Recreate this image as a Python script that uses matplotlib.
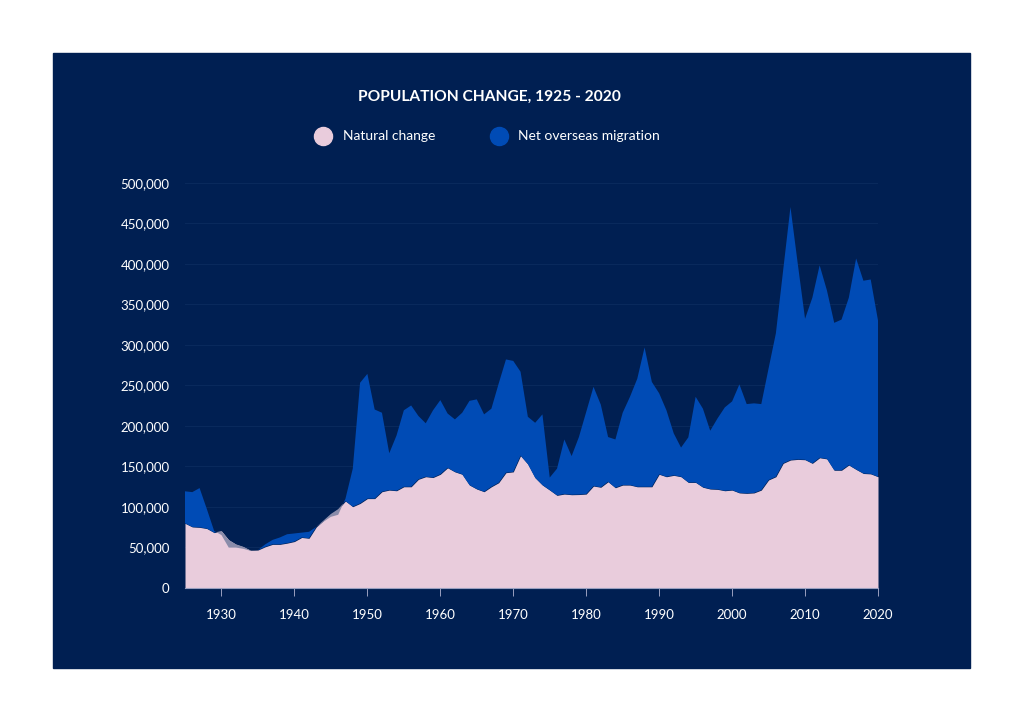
import numpy as np
import matplotlib.pyplot as plt
from matplotlib.patches import Rectangle
from matplotlib.lines import Line2D
from matplotlib.ticker import FuncFormatter

plt.rcParams['font.family'] = ['Lato', 'DejaVu Sans']

# Data (thousands of people), one value per year 1925 - 2020
years = list(range(1925, 2021))
natural_k = [79.5, 75, 74.5, 73, 68, 70, 59, 53.5, 50.5, 46,
             46.5, 50.5, 53.5, 53.5, 55, 57, 62, 61, 75, 83,
             91, 97, 107, 100, 104, 110, 110, 118.5, 120.5, 119.7,
             124.6, 124.6, 133.8, 137, 136, 140, 148, 143, 140, 126.7,
             121.8, 118.5, 124.6, 129.6, 142, 143, 163, 152.6, 135.7, 126.7,
             120.5, 114, 115.6, 114.8, 115, 115.6, 125.5, 124, 130.8, 123.4,
             126.7, 126.7, 124.6, 124.6, 124.6, 140, 137, 138.7, 137, 130,
             130, 124, 121.8, 121.4, 119.7, 120.5, 117, 116.5, 117, 120.5,
             133, 137, 153.5, 157.6, 158.4, 158, 153.5, 160.4, 159, 145,
             145, 151.4, 146, 141, 140.5, 137]
migration_k = [39.5, 43, 48.5, 24, 2, -5, -9.5, -4, -2.5, -0.5,
               0, 3, 5.5, 8.5, 11, 10, 6, 8, 0, -1.5,
               -3.5, -7, 3, 47, 149, 154, 110, 97.5, 45.5, 68.3,
               94.4, 100.4, 78.2, 66, 83, 91.6, 67, 64.8, 76, 104,
               110.7, 95.5, 96.4, 122.4, 139.8, 137, 103.6, 58.4, 67.9, 87.3,
               15.5, 33, 67.4, 47.7, 71, 101.4, 122.5, 102, 55.2, 59.6,
               89.3, 109, 133.4, 172, 129.4, 100, 82, 51.8, 36, 55.6,
               105.7, 97, 72, 87.6, 102.9, 109.5, 134, 110.2, 110.6, 106.2,
               137.7, 177, 238.5, 312.4, 241.6, 174, 204.5, 237.6, 208, 182,
               186, 206.6, 260.5, 238, 240, 193]
y_ticks = [0, 50000, 100000, 150000, 200000, 250000, 300000, 350000, 400000, 450000, 500000]
x_ticks = [1930, 1940, 1950, 1960, 1970, 1980, 1990, 2000, 2010, 2020]

navy = '#001f52'
blue = '#004bb5'
pink = '#e9ccdc'
grey = '#8a8caa'

natural = np.array(natural_k) * 1000
migration = np.array(migration_k) * 1000
total = natural + migration

W, H = 1024, 721
fig = plt.figure(figsize=(W / 100, H / 100), dpi=100)
fig.patch.set_facecolor('white')
fig.add_artist(Rectangle((53 / W, 1 - 668 / H), (970 - 53) / W, (668 - 53) / H,
                         transform=fig.transFigure, color=navy, zorder=0))

ax = fig.add_axes([185 / W, 1 - 587.7 / H, (878 - 185) / W, (587.7 - 182.7) / H])
ax.set_facecolor('none')

# pink natural change, migration stacked on top (grey where it is negative)
ax.fill_between(years, 0, natural, color=pink, lw=0, zorder=2)
ax.fill_between(years, natural, total, where=migration >= 0, interpolate=True,
                color=blue, lw=0, zorder=2)
ax.fill_between(years, total, natural, where=migration < 0, interpolate=True,
                color=grey, lw=0, zorder=2)

ax.set_xlim(1925, 2020)
ax.set_ylim(0, 500000)
ax.set_xticks(x_ticks)
ax.set_yticks(y_ticks)
ax.yaxis.set_major_formatter(FuncFormatter(lambda v, p: f'{int(v):,}'))
ax.grid(axis='y', color='#0a2a5d', lw=0.7, zorder=1)
for s in ['top', 'right', 'left']:
    ax.spines[s].set_visible(False)
ax.spines['bottom'].set_color('#9aa0c0')
ax.spines['bottom'].set_linewidth(0.8)
ax.spines['bottom'].set_zorder(3)
ax.tick_params(axis='y', length=0, pad=11, labelsize=9.5, labelcolor='white')
ax.tick_params(axis='x', length=6, width=0.7, color='#9aa0c0', pad=9,
               labelsize=9.5, labelcolor='white')

fig.text(489 / W, 1 - 97 / H, 'POPULATION CHANGE, 1925 - 2020', color='white',
         fontsize=11.2, fontweight='bold', ha='center', va='center')

for cx, tx, label, col in [(323, 343, 'Natural change', pink),
                            (499, 518, 'Net overseas migration', blue)]:
    fig.add_artist(Line2D([cx / W], [1 - 136 / H], marker='o', markersize=13,
                          color=col, transform=fig.transFigure))
    fig.text(tx / W, 1 - 136 / H, label, color='white', fontsize=10,
             ha='left', va='center')

fig.savefig('out.png', dpi=100, facecolor='white')
